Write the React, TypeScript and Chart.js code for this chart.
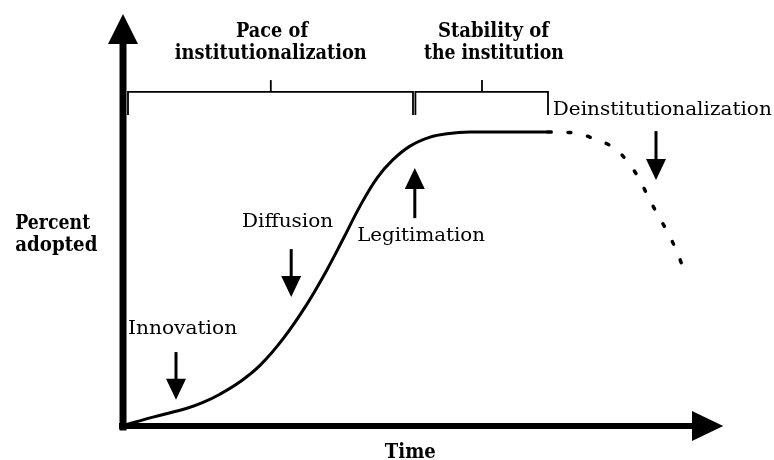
import React, { useEffect, useRef } from "react";
import { Chart, registerables } from "chart.js";

Chart.register(...registerables);

// S-curve of adoption (time units 0..100, percent adopted 0..100 = plateau)
const curveX = [0.3, 5.17, 10.83, 13.5, 16.33, 19.67, 23, 26.83, 30.83, 34.17, 36.83, 39.67, 42.5, 45.17, 48, 51.33, 54.17, 58, 71];
const curveY = [0.6, 3.36, 6.34, 8.34, 11.12, 15.32, 20.88, 29.86, 41.66, 53.32, 63.63, 74.88, 84.4, 90.61, 95.22, 98.27, 99.42, 100, 100];

// Dotted decline (deinstitutionalization)
const declineX = [71, 75.5, 78.8, 82, 84.3, 86.2, 87.7, 89.3, 91, 92.5, 93.8];
const declineY = [100, 99.7, 97.6, 94.6, 89.8, 84.1, 78, 71.9, 65.8, 59.3, 52.5];

// Text labels: text, x, y, width (data units), bold, align
const textLabels: [string, number, number, number, boolean, CanvasTextAlign][] = [
  ["Pace of", 25, 133.9, 12, true, "center"],
  ["institutionalization", 24.8, 126.4, 32, true, "center"],
  ["Stability of", 61.9, 133.9, 18.5, true, "center"],
  ["the institution", 62, 126.4, 23.3, true, "center"],
  ["Deinstitutionalization", 71.8, 107.5, 36.5, false, "left"],
  ["Percent", -17.8, 68.8, 12.5, true, "left"],
  ["adopted", -17.8, 61.4, 13.7, true, "left"],
  ["Time", 43.8, -8.8, 8.5, true, "left"],
  ["Innovation", 1, 33.2, 18.2, false, "left"],
  ["Diffusion", 20, 69.5, 15.2, false, "left"],
  ["Legitimation", 39.2, 64.7, 21.3, false, "left"],
];

// Pointer arrows: x, yFrom, yTo (tip)
const pointerArrows: [number, number, number][] = [
  [9, 25.4, 9.2],
  [28.2, 60.3, 44.1],
  [48.8, 70.8, 87.8],
  [89, 100.3, 83.7],
];

// Brackets: left, right, middle tick
const brackets: [number, number, number][] = [
  [1.0, 48.5, 24.8],
  [48.9, 71, 60],
];
const bracketTop = 113.6;
const bracketEnd = 105.8;
const bracketTick = 117.6;

const FAMILY = '"DejaVu Serif", serif';

const annotationPlugin = {
  id: "annotations",
  beforeDatasetsDraw(chart: any) {
    const { ctx, scales } = chart;
    const px = (v: number) => scales.x.getPixelForValue(v);
    const py = (v: number) => scales.y.getPixelForValue(v);
    ctx.save();
    ctx.fillStyle = "#000";
    ctx.strokeStyle = "#000";
    // Y axis
    ctx.lineWidth = 7;
    ctx.beginPath();
    ctx.moveTo(px(0.17), py(-1.2));
    ctx.lineTo(px(0.17), py(131));
    ctx.stroke();
    ctx.beginPath();
    ctx.moveTo(px(0.17), py(140));
    ctx.lineTo(px(0.17) - 15, py(129.8));
    ctx.lineTo(px(0.17) + 15, py(129.8));
    ctx.closePath();
    ctx.fill();
    // X axis
    ctx.lineWidth = 6;
    ctx.beginPath();
    ctx.moveTo(px(-0.5), py(0.34));
    ctx.lineTo(px(96), py(0.34));
    ctx.stroke();
    ctx.beginPath();
    ctx.moveTo(px(100.2), py(0.34));
    ctx.lineTo(px(95), py(0.34) - 15);
    ctx.lineTo(px(95), py(0.34) + 15);
    ctx.closePath();
    ctx.fill();
    ctx.restore();
  },
  afterDatasetsDraw(chart: any) {
    const { ctx, scales } = chart;
    const px = (v: number) => scales.x.getPixelForValue(v);
    const py = (v: number) => scales.y.getPixelForValue(v);
    ctx.save();
    ctx.fillStyle = "#000";
    ctx.strokeStyle = "#000";

    // Brackets
    ctx.lineWidth = 1.8;
    for (const [l, r, m] of brackets) {
      ctx.beginPath();
      ctx.moveTo(px(l), py(bracketEnd));
      ctx.lineTo(px(l), py(bracketTop));
      ctx.lineTo(px(r), py(bracketTop));
      ctx.lineTo(px(r), py(bracketEnd));
      ctx.stroke();
      ctx.beginPath();
      ctx.moveTo(px(m), py(bracketTop));
      ctx.lineTo(px(m), py(bracketTick));
      ctx.stroke();
    }

    // Pointer arrows
    for (const [x, y0, y1] of pointerArrows) {
      const X = px(x);
      const Y0 = py(y0);
      const Y1 = py(y1);
      const dir = Y1 > Y0 ? 1 : -1;
      ctx.lineWidth = 3;
      ctx.beginPath();
      ctx.moveTo(X, Y0);
      ctx.lineTo(X, Y1 - dir * 18);
      ctx.stroke();
      ctx.beginPath();
      ctx.moveTo(X, Y1);
      ctx.lineTo(X - 10, Y1 - dir * 21);
      ctx.lineTo(X + 10, Y1 - dir * 21);
      ctx.closePath();
      ctx.fill();
    }

    // Text
    for (const [text, x, y, w, bold, align] of textLabels) {
      const size = bold ? 20 : 19;
      ctx.font = `${bold ? "bold " : ""}${size}px ${FAMILY}`;
      const measured = ctx.measureText(text).width;
      const target = px(x + w) - px(x);
      const sx = target / measured;
      ctx.save();
      ctx.translate(px(x), py(y));
      ctx.scale(sx, 1);
      ctx.textAlign = align;
      ctx.textBaseline = "middle";
      ctx.fillText(text, 0, 0);
      ctx.restore();
    }
    ctx.restore();
  },
};

export default function App() {
  const ref = useRef<HTMLCanvasElement>(null);
  useEffect(() => {
    const chart = new Chart(ref.current as HTMLCanvasElement, {
      type: "line",
      data: {
        datasets: [
          {
            data: curveX.map((x, i) => ({ x, y: curveY[i] })),
            borderColor: "#000",
            borderWidth: 3,
            pointRadius: 0,
            tension: 0.4,
            fill: false,
            clip: false,
          } as any,
          {
            data: declineX.map((x, i) => ({ x, y: declineY[i] })),
            borderColor: "#000",
            borderWidth: 3.5,
            borderDash: [3, 17],
            borderCapStyle: "round",
            pointRadius: 0,
            tension: 0.4,
            fill: false,
            clip: false,
          } as any,
        ],
      },
      options: {
        responsive: false,
        animation: false,
        layout: { padding: { left: 122, right: 52, top: 132, bottom: 33 } },
        scales: {
          x: { type: "linear", min: 0, max: 100, display: false },
          y: { type: "linear", min: 0, max: 100, display: false },
        },
        plugins: { legend: { display: false }, tooltip: { enabled: false } },
      },
      plugins: [annotationPlugin],
    });
    return () => chart.destroy();
  }, []);
  return (
    <div style={{ position: "fixed", left: 0, top: 0, width: 774, height: 460, background: "#fff" }}>
      <canvas ref={ref} width={774} height={460} style={{ width: 774, height: 460 }} />
    </div>
  );
}
